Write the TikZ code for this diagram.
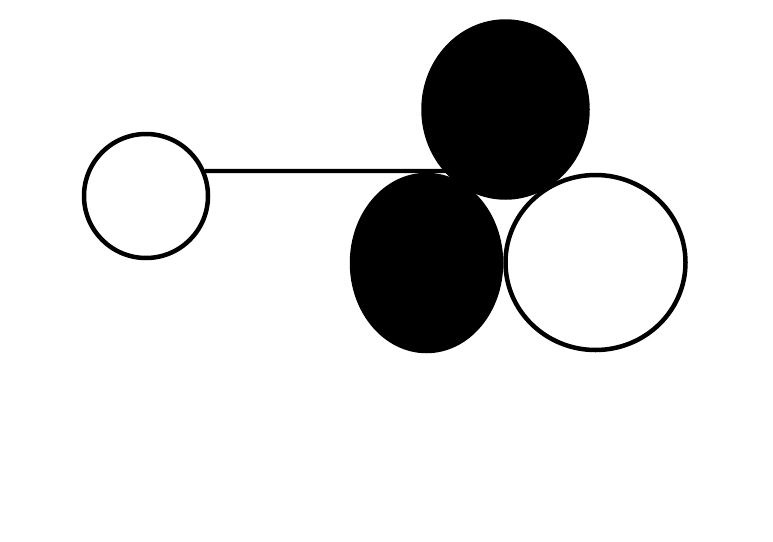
\documentclass[tikz,border=0pt]{standalone}
\usetikzlibrary{shapes.geometric}
\begin{document}
\begin{tikzpicture}[x=1pt,y=-1pt,
  blob/.style={ellipse,draw=black,line width=4.5pt,inner sep=0pt,minimum width=#1},
  dark/.style={fill=black},
  light/.style={fill=white}]
\useasboundingbox[fill=white] (0,0) rectangle (773,541);
\node[blob=124pt,minimum height=124pt,light] (L) at (146,196) {};
\coordinate (E) at (452,171);
\draw[line width=4.2pt] (L.23.8) -- (E);
\node[blob=164pt,minimum height=176pt,dark] (T) at (505.5,109.5) {};
\node[blob=149pt,minimum height=176pt,dark] (B) at (426.5,263) {};
\node[blob=180pt,minimum height=175pt,light] (R) at (595.5,262.5) {};
\end{tikzpicture}
\end{document}
